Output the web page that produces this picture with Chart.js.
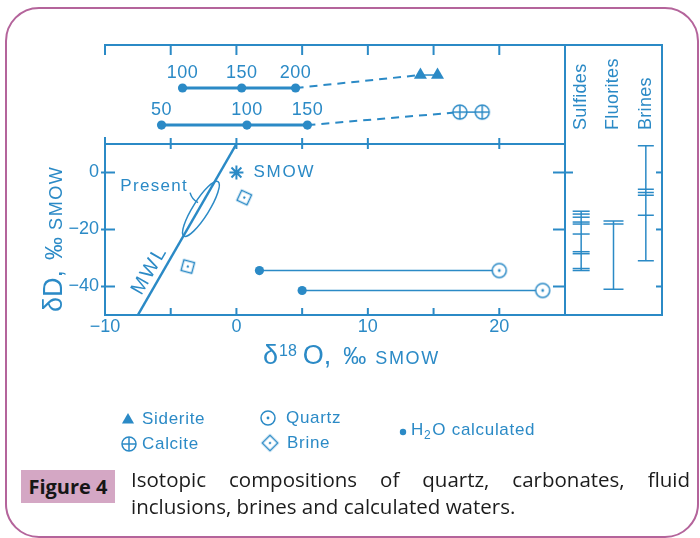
<!DOCTYPE html>
<html>
<head>
<meta charset="utf-8">
<script src="https://cdn.jsdelivr.net/npm/chart.js@4.4.1/dist/chart.umd.min.js"></script>
<style>
html,body{margin:0;padding:0;background:#fff;}
#wrap{position:relative;width:700px;height:538px;overflow:hidden;background:#fff;}
#wrap canvas{position:absolute;left:0;top:0;}
#card{position:absolute;left:5px;top:7px;width:694px;height:531px;box-sizing:border-box;border:2px solid #b4649b;border-radius:34px;}
#figtag{position:absolute;left:21px;top:470px;width:94px;height:33px;background:#d4a7c4;font:bold 20px "Open Sans",Lato,sans-serif;line-height:33px;text-align:center;color:#161616;}
.cap{position:absolute;left:131px;width:559px;font:20.5px "Open Sans",Lato,sans-serif;line-height:27px;color:#1c1c1c;}
#cap1{top:466px;text-align:justify;text-align-last:justify;}
#cap2{top:493px;text-align:left;}
</style>
</head>
<body>
<div id="wrap">
  <div id="card"></div>
  <canvas id="cTop" width="700" height="538"></canvas>
  <canvas id="cMain" width="700" height="538"></canvas>
  <canvas id="cSide" width="700" height="538"></canvas>
  <div id="figtag">Figure 4</div>
  <div class="cap" id="cap1">Isotopic compositions of quartz, carbonates, fluid</div>
  <div class="cap" id="cap2">inclusions, brines and calculated waters.</div>
</div>
<script>
// ---------------- DATA ----------------
// Main panel: δ18O (x) vs δD (y), ‰ SMOW
const xTickValues = [-10, 0, 10, 20];
const yTickValues = [-40, -20, 0];
const mwlO = [-7.5, 0];            // meteoric water line end points
const mwlD = [-50, 10];
const smowO = [0];
const smowD = [0];
const brineO = [0.6, -3.7];
const brineD = [-8.8, -33.0];
const quartzO = [20.0, 23.3];
const quartzD = [-34.4, -41.4];
const waterO = [1.75, 5.0];        // H2O calculated
const waterD = [-34.4, -41.4];
const presentO = [-1.4, -4.0];     // present-day waters (ellipse ends)
const presentD = [-3.2, -22.3];

// Top panel: calculated water δ18O at temperatures (°C), mineral δ18O
const sideriteTemps = [100, 150, 200];
const sideriteWaterO = [-4.1, 0.4, 4.5];
const sideriteO = [14.0, 15.3];
const calciteTemps = [50, 100, 150];
const calciteWaterO = [-5.7, 0.8, 5.4];
const calciteO = [17.0, 18.7];

// Side panel: δD ranges
const sideGroups = ['Sulfides', 'Fluorites', 'Brines'];
const sulfidesD = [-13.6, -14.6, -15.7, -17.4, -18.1, -21.6, -27.8, -28.5, -33.7, -34.4];
const fluoritesD = [-17.0, -18.1, -41.0];
const brinesD = [9.4, -5.9, -7.0, -8.0, -15.0, -31.0];

// ---------------- STYLE ----------------
const COLOR = '#2b8ac6';
const FONT = '"Liberation Sans", Arial, Helvetica, sans-serif';

function ln(ctx, x1, y1, x2, y2) { ctx.beginPath(); ctx.moveTo(x1, y1); ctx.lineTo(x2, y2); ctx.stroke(); }
function symCanvas(draw) {
  const c = document.createElement('canvas'); c.width = 20; c.height = 20;
  const g = c.getContext('2d'); g.strokeStyle = COLOR; g.fillStyle = COLOR; g.lineWidth = 1.5;
  draw(g, 10, 10); return c;
}
const quartzSym = symCanvas((g, cx, cy) => {
  g.beginPath(); g.arc(cx, cy, 7, 0, Math.PI * 2); g.fillStyle = '#fff'; g.fill(); g.stroke();
  g.fillStyle = COLOR; g.beginPath(); g.arc(cx, cy, 1.4, 0, Math.PI * 2); g.fill();
});
const calciteSym = symCanvas((g, cx, cy) => {
  g.beginPath(); g.arc(cx, cy, 7, 0, Math.PI * 2); g.fillStyle = '#fff'; g.fill(); g.stroke();
  ln(g, cx - 7, cy, cx + 7, cy); ln(g, cx, cy - 7, cx, cy + 7);
});
const brineSym = symCanvas((g, cx, cy) => {
  g.fillStyle = '#fff'; g.fillRect(cx - 5.5, cy - 5.5, 11, 11); g.strokeRect(cx - 5.5, cy - 5.5, 11, 11);
  g.fillStyle = COLOR; g.beginPath(); g.arc(cx, cy, 1.2, 0, Math.PI * 2); g.fill();
});
function drawTriangle(ctx, x, y, r) {
  ctx.beginPath();
  for (let k = 0; k < 3; k++) {
    const a = k * 2 * Math.PI / 3;
    const px = x + Math.sin(a) * r, py = y - Math.cos(a) * r;
    k ? ctx.lineTo(px, py) : ctx.moveTo(px, py);
  }
  ctx.closePath(); ctx.fill();
}
function drawImg(ctx, img, x, y, rotDeg) {
  ctx.save(); ctx.translate(x, y); ctx.rotate((rotDeg || 0) * Math.PI / 180);
  ctx.drawImage(img, -img.width / 2, -img.height / 2); ctx.restore();
}
const pts = (xs, ys) => xs.map((v, i) => ({ x: v, y: ys[i] }));
const base = { animation: false, responsive: false, events: [],
  plugins: { legend: { display: false }, tooltip: { enabled: false } } };
const minus = v => (v < 0 ? '\u2212' + Math.abs(v) : String(v));

// ---------------- TOP PANEL ----------------
const rowSiderite = 1, rowCalcite = 0, mineralLift = 0.35;
function topSeries(temps, wO, mO, row, style, radius) {
  return [
    { data: wO.map(v => ({ x: v, y: row })), temps: temps, showLine: true, borderColor: COLOR, borderWidth: 3,
      pointStyle: 'circle', pointRadius: 4.6, pointBackgroundColor: COLOR, pointBorderWidth: 0, order: 0 },
    { data: [{ x: wO[wO.length - 1], y: row }, { x: mO[0], y: row + mineralLift }], showLine: true,
      borderColor: COLOR, borderWidth: 2, borderDash: [8, 6], pointRadius: 0, order: 2 },
    { data: mO.map(v => ({ x: v, y: row + mineralLift })), showLine: true, borderColor: COLOR, borderWidth: 1.5,
      pointStyle: style, pointRadius: radius, pointBackgroundColor: COLOR, pointBorderColor: COLOR, pointBorderWidth: 0, order: 1 }
  ];
}
const topDecor = {
  id: 'topDecor',
  afterDraw(chart) {
    const { ctx, chartArea: a, scales: { x } } = chart;
    ctx.save(); ctx.strokeStyle = COLOR; ctx.fillStyle = COLOR; ctx.lineWidth = 2;
    ln(ctx, a.left - 1, a.top, a.right, a.top);
    [-10, -5, 0, 5, 10, 15, 20].forEach(v => { const p = x.getPixelForValue(v); ln(ctx, p, a.top, p, a.top + 10); });
    ln(ctx, a.left, a.bottom, a.left, a.bottom - 7);
    ctx.font = '18px ' + FONT; ctx.textAlign = 'center'; ctx.textBaseline = 'middle';
    try { ctx.letterSpacing = '0.5px'; } catch (e) {}
    chart.data.datasets.forEach((ds, i) => {
      if (!ds.temps) return;
      chart.getDatasetMeta(i).data.forEach((el, j) => ctx.fillText(String(ds.temps[j]), el.x, el.y - 15));
    });
    ctx.restore();
  }
};
new Chart(document.getElementById('cTop'), {
  type: 'scatter',
  data: { datasets: [
    ...topSeries(sideriteTemps, sideriteWaterO, sideriteO, rowSiderite, 'triangle', 7.5),
    ...topSeries(calciteTemps, calciteWaterO, calciteO, rowCalcite, calciteSym, 8)
  ] },
  options: { ...base,
    layout: { padding: { left: 105, right: 135, top: 45, bottom: 394 } },
    scales: {
      x: { type: 'linear', min: -10, max: 25, display: false },
      y: { type: 'linear', min: -0.51, max: 2.16, display: false }
    }
  },
  plugins: [topDecor]
});

// ---------------- MAIN PANEL ----------------
const mainDecor = {
  id: 'mainDecor',
  afterDraw(chart) {
    const { ctx, chartArea: a, scales: { x, y } } = chart;
    ctx.save(); ctx.strokeStyle = COLOR; ctx.fillStyle = COLOR; ctx.lineWidth = 2;
    // frame
    ln(ctx, a.left, a.top, a.right, a.top);
    ln(ctx, a.left, a.top - 1, a.left, a.bottom + 1);
    ln(ctx, a.left, a.bottom, a.right, a.bottom);
    [-5, 0, 5, 10, 15, 20].forEach(v => { const p = x.getPixelForValue(v); ln(ctx, p, a.bottom, p, a.bottom - 7); });
    [-5, 0, 5, 10, 20].forEach(v => { const p = x.getPixelForValue(v); ln(ctx, p, a.top - 6, p, a.top + 5); });
    yTickValues.forEach(v => { const p = y.getPixelForValue(v); ln(ctx, a.left - 4, p, a.left + 10, p); });
    yTickValues.forEach(v => { const p = y.getPixelForValue(v); ln(ctx, a.right - 12, p, a.right + (v === 0 ? 8 : 0), p); });

    // present-day waters ellipse
    const p1 = { x: x.getPixelForValue(presentO[0]), y: y.getPixelForValue(presentD[0]) };
    const p2 = { x: x.getPixelForValue(presentO[1]), y: y.getPixelForValue(presentD[1]) };
    const cx = (p1.x + p2.x) / 2, cy = (p1.y + p2.y) / 2;
    const half = Math.hypot(p2.x - p1.x, p2.y - p1.y) / 2;
    const ang = Math.atan2(p2.y - p1.y, p2.x - p1.x);
    ctx.lineWidth = 1.5;
    ctx.beginPath(); ctx.ellipse(cx, cy, half, 8, ang, 0, Math.PI * 2); ctx.stroke();
    ctx.beginPath(); ctx.moveTo(p1.x - 28, p1.y + 11); ctx.quadraticCurveTo(p1.x - 26, p1.y + 18, p1.x - 20, p1.y + 21); ctx.stroke();

    ctx.font = '17px ' + FONT; ctx.textBaseline = 'middle';
    try { ctx.letterSpacing = '1.3px'; } catch (e) {}
    ctx.textAlign = 'right'; ctx.fillText('Present', p1.x - 30, p1.y + 5);
    // SMOW label
    const sx = x.getPixelForValue(smowO[0]), sy = y.getPixelForValue(smowD[0]);
    try { ctx.letterSpacing = '1.8px'; } catch (e) {}
    ctx.textAlign = 'left'; ctx.fillText('SMOW', sx + 17, sy);

    // MWL label
    const dRef = -36.5, oRef = mwlO[0] + (dRef - mwlD[0]) * (mwlO[1] - mwlO[0]) / (mwlD[1] - mwlD[0]);
    const lx = x.getPixelForValue(oRef), ly = y.getPixelForValue(dRef);
    const m1x = x.getPixelForValue(mwlO[0]), m1y = y.getPixelForValue(mwlD[0]);
    const m2x = x.getPixelForValue(mwlO[1]), m2y = y.getPixelForValue(mwlD[1]);
    const la = Math.atan2(m2y - m1y, m2x - m1x);
    const nx = Math.sin(la), ny = -Math.cos(la);
    ctx.save(); ctx.translate(lx + nx * 12, ly + ny * 12); ctx.rotate(la);
    ctx.font = '20px ' + FONT; ctx.textAlign = 'center';
    try { ctx.letterSpacing = '2px'; } catch (e) {}
    ctx.fillText('MWL', 0, 0); ctx.restore();

    // axis titles
    function drawParts(x0, base, list) {
      let cxp = x0;
      list.forEach(([t, s, dy, gap]) => {
        cxp += gap; ctx.font = s + 'px ' + FONT;
        try { ctx.letterSpacing = (t === 'SMOW' ? '1.6px' : '0px'); } catch (e) {}
        ctx.fillText(t, cxp, base + dy); cxp += ctx.measureText(t).width;
      });
      return cxp - x0;
    }
    ctx.textAlign = 'left'; ctx.textBaseline = 'alphabetic';
    drawParts(263, 364, [['δ', 27, 0, 0], ['18', 16, -8, 1], ['O,', 27, 0, 6], ['‰', 23, 0, 12], ['SMOW', 18, 0, 9]]);

    ctx.save(); ctx.translate(62, 312); ctx.rotate(-Math.PI / 2);
    drawParts(0, 0, [['δD,', 27, 0, 0], ['‰', 23, 0, 10], ['SMOW', 18, 0, 7]]);
    ctx.restore();

    // legend
    ctx.fillStyle = COLOR; ctx.textBaseline = 'middle'; ctx.textAlign = 'left';
    ctx.font = '17px ' + FONT;
    try { ctx.letterSpacing = '0.7px'; } catch (e) {}
    drawTriangle(ctx, 128, 420, 7); ctx.fillText('Siderite', 142, 419);
    drawImg(ctx, calciteSym, 129, 444); ctx.fillText('Calcite', 142, 444);
    drawImg(ctx, quartzSym, 268, 418); ctx.fillText('Quartz', 286, 418);
    drawImg(ctx, brineSym, 270, 443, 45); ctx.fillText('Brine', 287, 443);
    ctx.beginPath(); ctx.arc(403, 432, 3.2, 0, Math.PI * 2); ctx.fill();
    ctx.fillText('H', 411, 430);
    let hx = 411 + ctx.measureText('H').width;
    ctx.font = '12px ' + FONT; ctx.fillText('2', hx, 436); hx += ctx.measureText('2').width + 1;
    ctx.font = '17px ' + FONT; ctx.fillText('O calculated', hx, 430);
    ctx.restore();
  }
};
new Chart(document.getElementById('cMain'), {
  type: 'scatter',
  data: { datasets: [
    { data: pts(mwlO, mwlD), showLine: true, borderColor: COLOR, borderWidth: 2.5, pointRadius: 0, order: 3 },
    ...waterO.map((o, i) => ({ data: [{ x: o, y: waterD[i] }, { x: quartzO[i], y: quartzD[i] }], showLine: true,
      borderColor: COLOR, borderWidth: 1.5, pointRadius: 0, order: 2 })),
    { label: 'H2O calculated', data: pts(waterO, waterD), pointStyle: 'circle', pointRadius: 4.6,
      backgroundColor: COLOR, borderColor: COLOR, borderWidth: 0, order: 0 },
    { label: 'Quartz', data: pts(quartzO, quartzD), pointStyle: quartzSym, order: 0 },
    { label: 'Brine', data: pts(brineO, brineD), pointStyle: brineSym, pointRotation: [25, 15], order: 0 },
    { label: 'SMOW', data: pts(smowO, smowD), pointStyle: 'star', pointRadius: 7, borderColor: COLOR, borderWidth: 2, order: 0 }
  ] },
  options: { ...base,
    layout: { padding: { left: 0, right: 135, top: 144, bottom: 193 } },
    scales: {
      x: { type: 'linear', position: 'bottom', min: -10, max: 25,
        afterBuildTicks: s => { s.ticks = xTickValues.map(v => ({ value: v })); },
        afterFit: s => { s.height = 30; },
        grid: { display: false, drawTicks: false }, border: { display: false },
        ticks: { font: { family: FONT, size: 18 }, color: COLOR, padding: 1, maxRotation: 0, autoSkip: false, callback: minus } },
      y: { type: 'linear', position: 'left', min: -50, max: 10,
        afterBuildTicks: s => { s.ticks = yTickValues.map(v => ({ value: v })); },
        afterFit: s => { s.width = 105; },
        grid: { display: false, drawTicks: false }, border: { display: false },
        ticks: { font: { family: FONT, size: 18 }, color: COLOR, padding: 6, autoSkip: false, callback: minus } }
    }
  },
  plugins: [mainDecor]
});

// ---------------- SIDE PANEL ----------------
const sideValues = [sulfidesD, fluoritesD, brinesD];
const sideTickHalf = [8.5, 10, 8];
const sideDatasets = [];
sideGroups.forEach((g, i) => {
  const vals = sideValues[i];
  sideDatasets.push({ data: [{ x: g, y: Math.min(...vals) }, { x: g, y: Math.max(...vals) }], showLine: true,
    borderColor: COLOR, borderWidth: 1.5, pointRadius: 0 });
  sideDatasets.push({ data: vals.map(v => ({ x: g, y: v })), showLine: false, pointStyle: 'line',
    pointRadius: sideTickHalf[i], pointBorderColor: COLOR, pointBorderWidth: 1.5 });
});
const sideDecor = {
  id: 'sideDecor',
  afterDraw(chart) {
    const { ctx, chartArea: a, scales: { x, y } } = chart;
    ctx.save(); ctx.strokeStyle = COLOR; ctx.fillStyle = COLOR; ctx.lineWidth = 2;
    ln(ctx, a.left, a.top - 1, a.left, a.bottom + 1);
    ln(ctx, a.right, a.top - 1, a.right, a.bottom + 1);
    ln(ctx, a.left, a.top, a.right + 1, a.top);
    ln(ctx, a.left, a.bottom, a.right + 1, a.bottom);
    yTickValues.forEach(v => { const p = y.getPixelForValue(v); ln(ctx, a.right - 6, p, a.right, p); });
    ctx.font = '18px ' + FONT; ctx.textAlign = 'left'; ctx.textBaseline = 'middle';
    try { ctx.letterSpacing = '0.3px'; } catch (e) {}
    sideGroups.forEach((g, i) => {
      const px = x.getPixelForValue(i);
      ctx.save(); ctx.translate(px, 130); ctx.rotate(-Math.PI / 2); ctx.fillText(g, 0, 0); ctx.restore();
    });
    ctx.restore();
  }
};
new Chart(document.getElementById('cSide'), {
  type: 'line',
  data: { labels: sideGroups, datasets: sideDatasets },
  options: { ...base,
    layout: { padding: { left: 565, right: 38, top: 45, bottom: 223 } },
    scales: {
      x: { type: 'category', labels: sideGroups, offset: true, display: false },
      y: { type: 'linear', min: -50, max: 44.7, display: false }
    }
  },
  plugins: [sideDecor]
});
</script>
</body>
</html>
